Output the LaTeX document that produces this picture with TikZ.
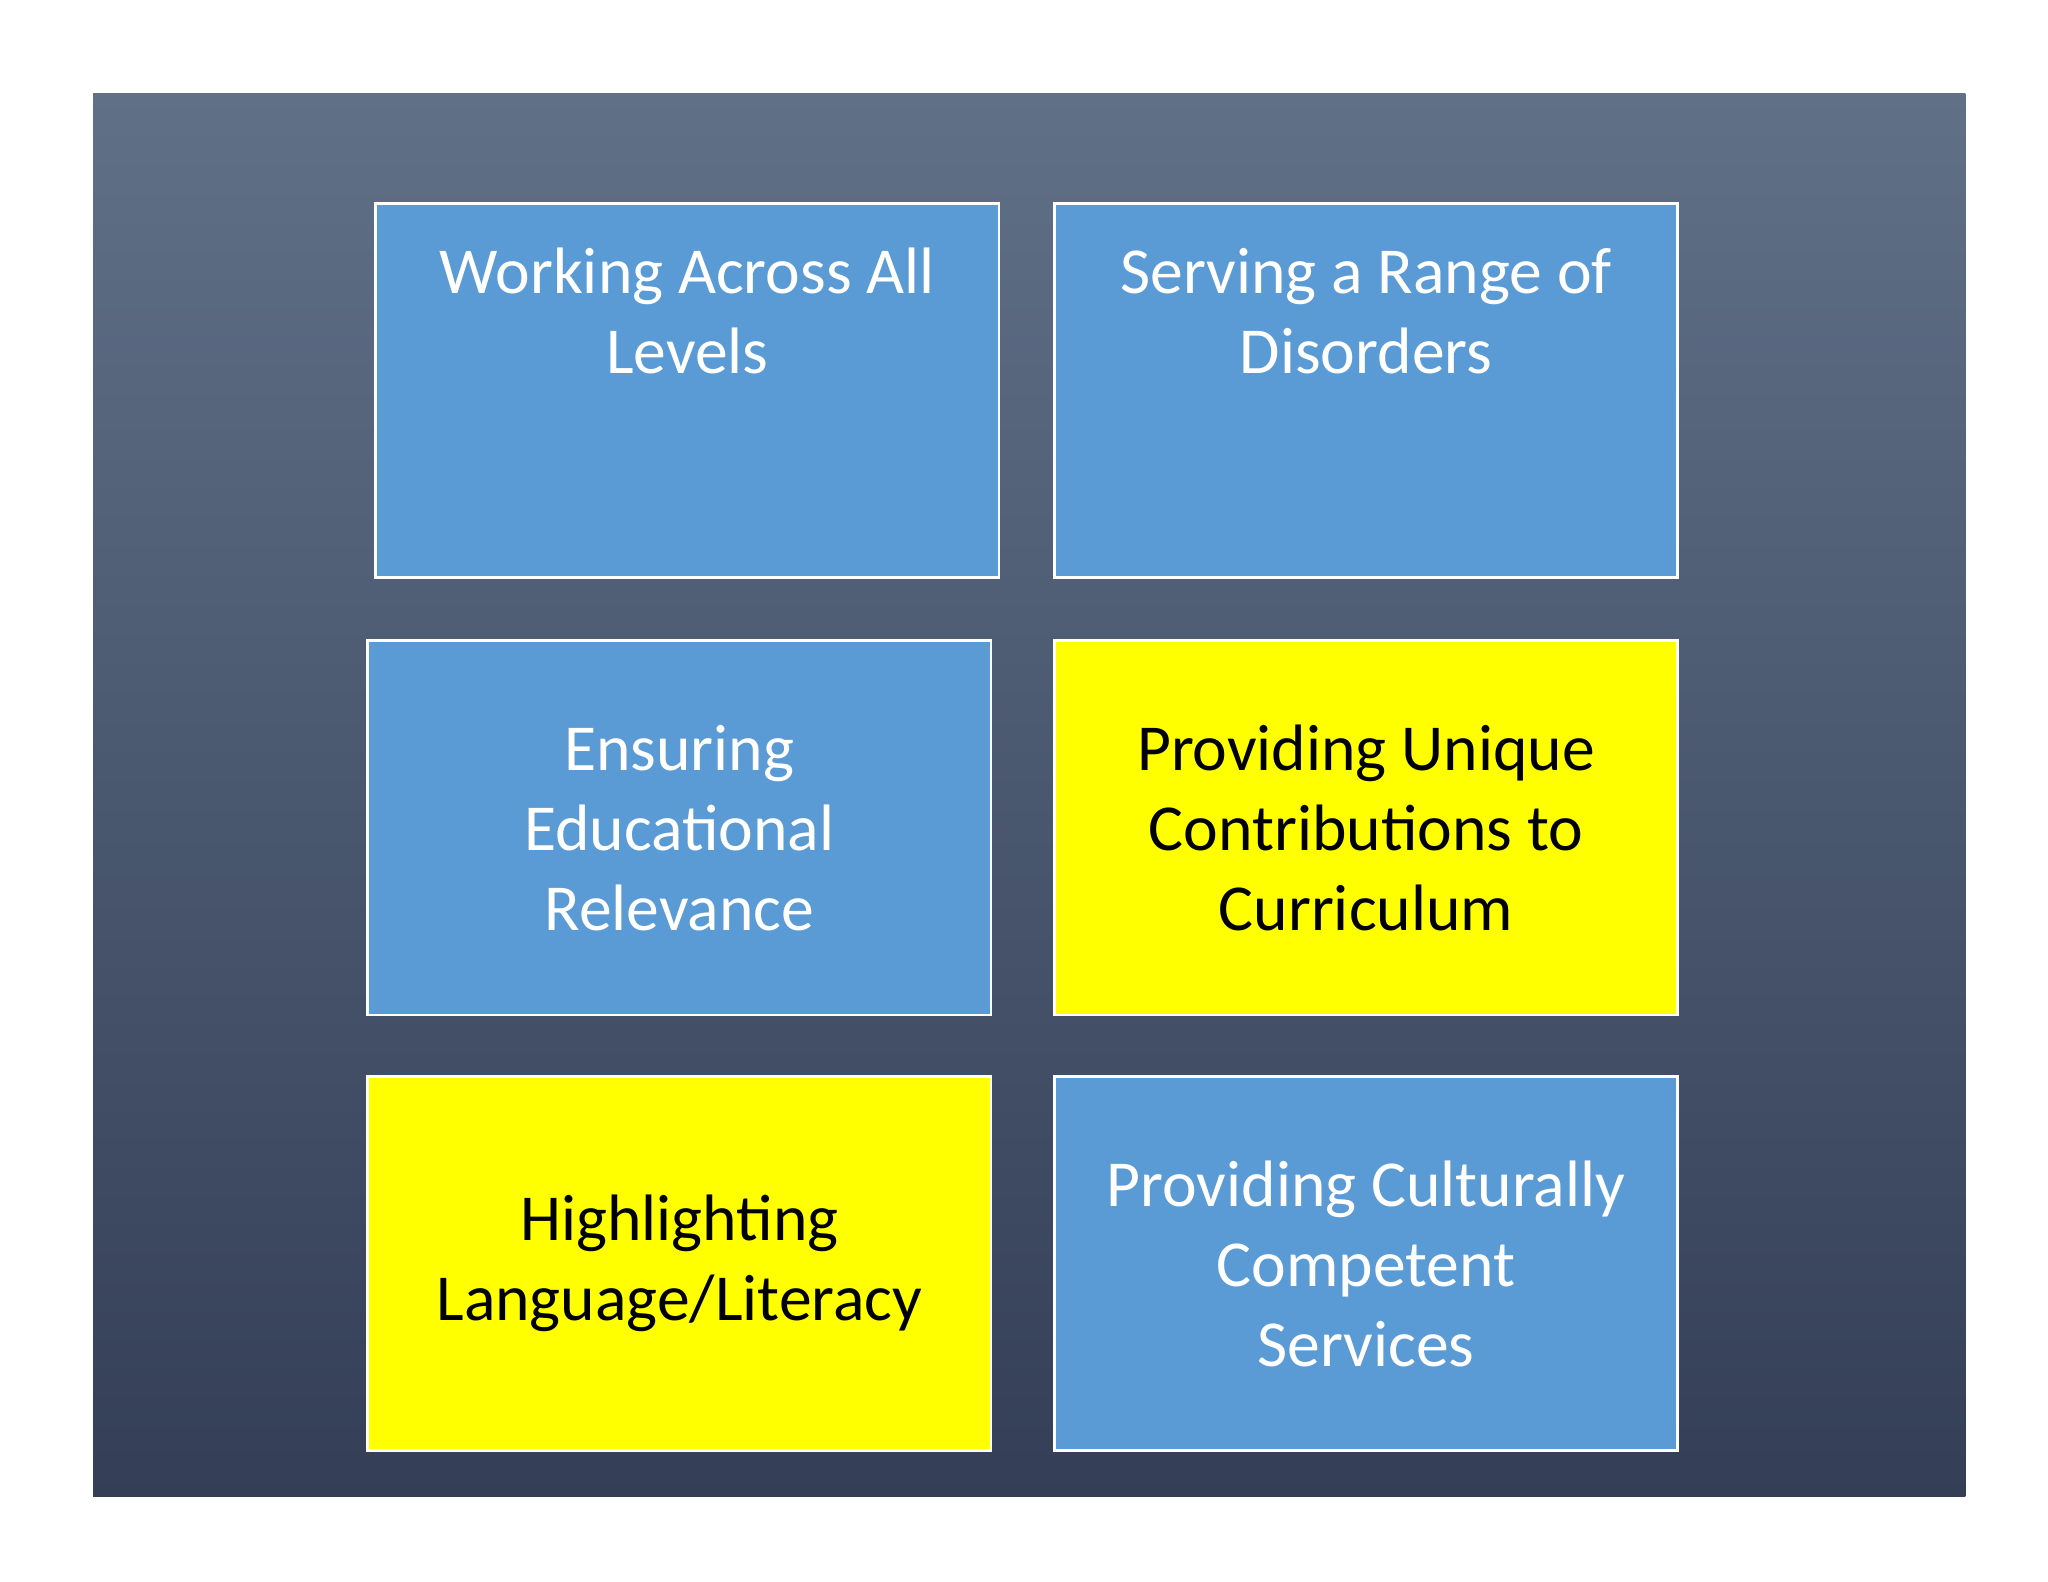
\documentclass[tikz,border=0pt]{standalone}
\usepackage{fontspec}
\setmainfont{Carlito}
\definecolor{bgtop}{HTML}{607087}
\definecolor{bgbot}{HTML}{343F57}
\definecolor{boxblue}{HTML}{5B9BD5}
\definecolor{boxyellow}{HTML}{FFFF00}
\begin{document}
\begin{tikzpicture}[x=0.5pt,y=-0.5pt,
  card/.style={draw=white,line width=1pt,minimum width=237.5pt,minimum height=142.5pt,
    align=center,font=\fontsize{25}{30.5}\selectfont,anchor=north west,inner sep=0pt},
  bluecard/.style={card,fill=boxblue,text=white},
  yellowcard/.style={card,fill=boxyellow,text=black}]
\useasboundingbox (0,0) rectangle (1560,1205);
\fill[white] (0,0) rectangle (1560,1205);
\shade[top color=bgtop,bottom color=bgbot] (71,71) rectangle (1497,1140);
\node[bluecard] (a) at (285,154) {Working Across All\\Levels\\[30pt]};
\node[bluecard] (b) at (802,154) {Serving a Range of\\Disorders\\[30pt]};
\node[bluecard] (c) at (279,487) {Ensuring\\Educational\\Relevance};
\node[yellowcard] (d) at (802,487) {Providing Unique\\Contributions to\\Curriculum};
\node[yellowcard] (e) at (279,819) {Highlighting\\Language/Literacy};
\node[bluecard] (f) at (802,819) {Providing Culturally\\Competent\\Services};
\end{tikzpicture}
\end{document}
